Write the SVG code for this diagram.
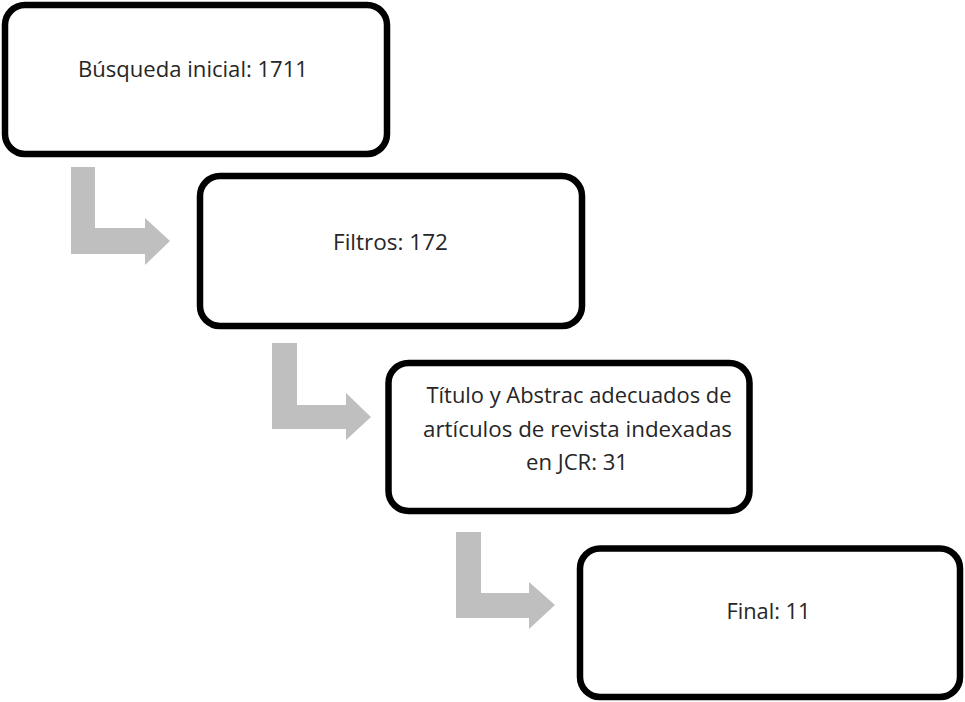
<svg xmlns="http://www.w3.org/2000/svg" width="965" height="702" viewBox="0 0 965 702">
<style>
.box{fill:#ffffff;stroke:#000000;stroke-width:6.5}
.lbl{font-family:"Open Sans","Noto Sans","Liberation Sans",sans-serif;font-size:21px;fill:#262626;text-anchor:middle}
.arr{fill:#bfbfbf;stroke:none}
</style>
<rect width="965" height="702" fill="#ffffff"/>
<g id="connectors">
<polygon class="arr" points="71,167 95,167 95,228 145,228 145,218 170,241 145,265 145,254 71,254"/>
<polygon class="arr" points="272,343 297,343 297,405 346,405 346,393 371,417 346,440 346,429 272,429"/>
<polygon class="arr" points="456,532 481,532 481,593 529,593 529,582 555,605 529,629 529,618 456,618"/>
</g>
<g id="node1">
<rect class="box" x="5" y="5" width="382" height="149" rx="20"/>
<text class="lbl" x="193" y="77" textLength="230" lengthAdjust="spacingAndGlyphs">Búsqueda inicial: 1711</text>
</g>
<g id="node2">
<rect class="box" x="200" y="176" width="382" height="150" rx="20"/>
<text class="lbl" x="390.5" y="250" textLength="115" lengthAdjust="spacingAndGlyphs">Filtros: 172</text>
</g>
<g id="node3">
<rect class="box" x="388.5" y="363" width="361" height="148" rx="20"/>
<text class="lbl" x="579" y="403" textLength="305" lengthAdjust="spacingAndGlyphs">Título y Abstrac adecuados de</text>
<text class="lbl" x="577.5" y="437" textLength="309" lengthAdjust="spacingAndGlyphs">artículos de revista indexadas</text>
<text class="lbl" x="577" y="470" textLength="102" lengthAdjust="spacingAndGlyphs">en JCR: 31</text>
</g>
<g id="node4">
<rect class="box" x="580" y="548.5" width="380" height="148.5" rx="20"/>
<text class="lbl" x="768.5" y="619" textLength="84" lengthAdjust="spacingAndGlyphs">Final: 11</text>
</g>
</svg>
